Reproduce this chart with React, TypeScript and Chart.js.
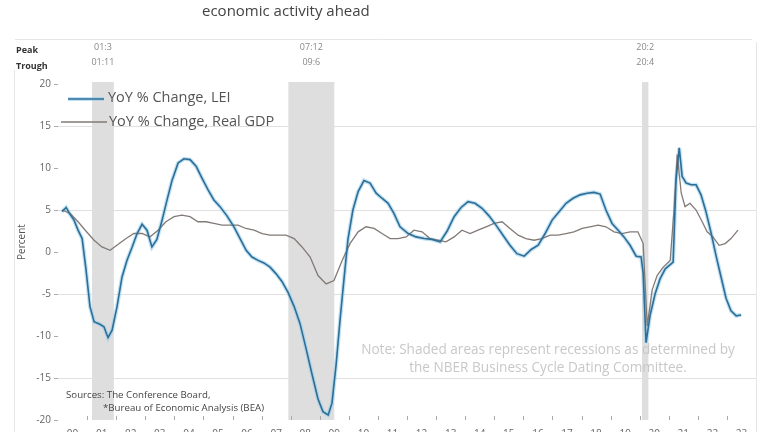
import React, { useEffect, useRef } from 'react';
import { Chart, registerables } from 'chart.js';
Chart.register(...registerables);

// ---- Data (years as decimal, values in YoY %) ----
const leiDates = [
  2000.14, 2000.28, 2000.41, 2000.55, 2000.69, 2000.83, 2000.96, 2001.10, 2001.24, 2001.44,
  2001.58, 2001.72, 2001.86, 2002.03, 2002.20, 2002.37, 2002.54, 2002.72, 2002.89, 2003.06,
  2003.23, 2003.40, 2003.58, 2003.75, 2003.92, 2004.13, 2004.33, 2004.54, 2004.75, 2004.95,
  2005.16, 2005.36, 2005.57, 2005.81, 2006.05, 2006.26, 2006.47, 2006.67, 2006.88, 2007.08,
  2007.29, 2007.50, 2007.70, 2007.91, 2008.12, 2008.32, 2008.53, 2008.73, 2008.94, 2009.11,
  2009.29, 2009.42, 2009.56, 2009.70, 2009.84, 2009.97, 2010.14, 2010.32, 2010.52, 2010.73,
  2010.94, 2011.14, 2011.35, 2011.55, 2011.76, 2012.04, 2012.31, 2012.59, 2012.86, 2013.14,
  2013.38, 2013.62, 2013.86, 2014.10, 2014.34, 2014.58, 2014.82, 2015.06, 2015.30, 2015.54,
  2015.78, 2016.03, 2016.27, 2016.51, 2016.75, 2016.99, 2017.23, 2017.47, 2017.71, 2017.95,
  2018.19, 2018.43, 2018.64, 2018.84, 2019.05, 2019.26, 2019.46, 2019.67, 2019.88, 2020.05,
  2020.12, 2020.22, 2020.36, 2020.53, 2020.70, 2020.88, 2021.05, 2021.15, 2021.25, 2021.36,
  2021.46, 2021.60, 2021.77, 2021.94, 2022.11, 2022.28, 2022.46, 2022.63, 2022.80, 2022.97,
  2023.14, 2023.32, 2023.49,
];
const leiValues = [
  4.8, 5.3, 4.5, 3.8, 2.6, 1.6, -2.0, -6.5, -8.3, -8.6,
  -8.9, -10.2, -9.3, -6.5, -3.0, -1.0, 0.5, 2.2, 3.3, 2.6,
  0.6, 1.5, 3.8, 6.2, 8.5, 10.6, 11.1, 11.0, 10.2, 8.8,
  7.4, 6.2, 5.4, 4.3, 3.0, 1.6, 0.2, -0.6, -1.0, -1.3,
  -1.8, -2.6, -3.5, -4.8, -6.5, -8.5, -11.5, -14.5, -17.5, -19.0,
  -19.4, -18.0, -13.5, -8.0, -3.0, 1.5, 5.0, 7.2, 8.5, 8.2,
  7.0, 6.4, 5.8, 4.6, 3.0, 2.2, 1.8, 1.6, 1.5, 1.2,
  2.5, 4.2, 5.3, 6.0, 5.8, 5.2, 4.3, 3.2, 2.0, 0.8,
  -0.2, -0.5, 0.3, 0.8, 2.2, 3.8, 4.8, 5.8, 6.4, 6.8,
  7.0, 7.1, 6.9, 5.0, 3.4, 2.6, 1.8, 0.8, -0.5, -0.6,
  -2.5, -10.8, -7.5, -5.0, -3.2, -2.0, -1.5, -1.2, 8.5, 12.4,
  9.0, 8.2, 8.0, 8.0, 6.8, 4.8, 2.2, -0.5, -3.0, -5.5,
  -7.0, -7.6, -7.5,
];
const gdpDates = [
  2000.14, 2000.41, 2000.69, 2000.96, 2001.24, 2001.51, 2001.79, 2002.06, 2002.34, 2002.61,
  2002.89, 2003.16, 2003.44, 2003.71, 2003.99, 2004.26, 2004.54, 2004.81, 2005.09, 2005.36,
  2005.64, 2005.91, 2006.19, 2006.46, 2006.74, 2007.02, 2007.29, 2007.57, 2007.84, 2008.12,
  2008.39, 2008.67, 2008.94, 2009.22, 2009.49, 2009.77, 2010.04, 2010.32, 2010.59, 2010.87,
  2011.14, 2011.42, 2011.69, 2011.97, 2012.24, 2012.52, 2012.79, 2013.07, 2013.34, 2013.62,
  2013.89, 2014.17, 2014.44, 2014.72, 2014.99, 2015.27, 2015.54, 2015.82, 2016.09, 2016.37,
  2016.64, 2016.92, 2017.19, 2017.47, 2017.74, 2018.02, 2018.29, 2018.57, 2018.84, 2019.12,
  2019.39, 2019.67, 2019.94, 2020.12, 2020.26, 2020.43, 2020.60, 2020.81, 2021.05, 2021.18,
  2021.29, 2021.43, 2021.56, 2021.73, 2021.94, 2022.15, 2022.32, 2022.52, 2022.73, 2022.94,
  2023.14, 2023.38,
];
const gdpValues = [
  5.0, 4.6, 3.6, 2.5, 1.4, 0.6, 0.2, 0.9, 1.6, 2.2,
  2.2, 1.8, 2.6, 3.6, 4.2, 4.4, 4.2, 3.6, 3.6, 3.4,
  3.2, 3.2, 3.2, 2.8, 2.6, 2.2, 2.0, 2.0, 2.0, 1.6,
  0.6, -0.6, -2.8, -3.8, -3.4, -1.0, 1.0, 2.4, 3.0, 2.8,
  2.2, 1.6, 1.6, 1.8, 2.6, 2.4, 1.6, 1.4, 1.2, 1.8,
  2.6, 2.2, 2.6, 3.0, 3.4, 3.6, 2.8, 2.0, 1.6, 1.4,
  1.6, 2.0, 2.0, 2.2, 2.4, 2.8, 3.0, 3.2, 3.0, 2.4,
  2.2, 2.4, 2.4, 1.0, -8.8, -4.5, -2.8, -1.8, -1.0, 5.0,
  11.6, 7.0, 5.4, 5.8, 5.0, 3.6, 2.4, 1.8, 0.8, 1.0,
  1.6, 2.6,
];
const recessionStart = [2001.17, 2007.92, 2020.08];
const recessionEnd = [2001.92, 2009.5, 2020.3];
const peakLabels = ['01:3', '07:12', '20:2'];
const troughLabels = ['01:11', '09:6', '20:4'];
const yearTickLabels = [
  '00', '01', '02', '03', '04', '05', '06', '07', '08', '09', '10', '11',
  '12', '13', '14', '15', '16', '17', '18', '19', '20', '21', '22', '23',
];
const gridValues = [15, 5, -5, -15];
const legendLabels = ['YoY % Change, LEI', 'YoY % Change, Real GDP'];

const FONT = '"Open Sans", "DejaVu Sans", sans-serif';

const decorPlugin = {
  id: 'decor',
  beforeDraw(chart: any) {
    const { ctx, width, height } = chart;
    ctx.save();
    ctx.fillStyle = '#ffffff';
    ctx.fillRect(0, 0, width, height);
    ctx.strokeStyle = '#e6e6e6';
    ctx.lineWidth = 1;
    ctx.beginPath();
    ctx.moveTo(15, 39.5);
    ctx.lineTo(752, 39.5);
    ctx.moveTo(14.5, 70);
    ctx.lineTo(14.5, height);
    ctx.moveTo(756.5, 42);
    ctx.lineTo(756.5, height);
    ctx.stroke();
    ctx.restore();
  },
  beforeDatasetsDraw(chart: any) {
    const { ctx, chartArea, scales } = chart;
    const x = scales.x;
    ctx.save();
    ctx.fillStyle = '#dedede';
    recessionStart.forEach((s, i) => {
      const x0 = x.getPixelForValue(s);
      const x1 = x.getPixelForValue(recessionEnd[i]);
      ctx.fillRect(x0, chartArea.top - 2, x1 - x0, chartArea.bottom - chartArea.top + 2);
    });
    // small year tick marks along the bottom
    ctx.strokeStyle = '#aaaaaa';
    ctx.beginPath();
    for (let i = 1; i < yearTickLabels.length; i++) {
      const px = Math.round(x.getPixelForValue(2000 + i)) + 0.5;
      ctx.moveTo(px, chartArea.bottom - 4);
      ctx.lineTo(px, chartArea.bottom);
    }
    ctx.stroke();
    ctx.restore();
  },
  afterDatasetsDraw(chart: any) {
    const { ctx, scales } = chart;
    const x = scales.x;
    ctx.save();
    // Title fragment
    ctx.fillStyle = '#444';
    ctx.font = `15px ${FONT}`;
    ctx.textBaseline = 'middle';
    ctx.textAlign = 'left';
    ctx.fillText('economic activity ahead', 202, 12);

    // Peak / Trough
    ctx.font = `bold 9px ${FONT}`;
    ctx.fillStyle = '#333';
    ctx.fillText('Peak', 16, 50);
    ctx.fillText('Trough', 16, 66);
    ctx.font = `9px ${FONT}`;
    ctx.fillStyle = '#888';
    ctx.textAlign = 'center';
    recessionStart.forEach((s, i) => {
      const cx = (x.getPixelForValue(s) + x.getPixelForValue(recessionEnd[i])) / 2;
      ctx.fillText(peakLabels[i], cx, 47);
      ctx.fillText(troughLabels[i], cx, 62);
    });

    // Percent
    ctx.save();
    ctx.translate(22, 242);
    ctx.rotate(-Math.PI / 2);
    ctx.font = `10px ${FONT}`;
    ctx.fillStyle = '#555';
    ctx.textAlign = 'center';
    ctx.fillText('Percent', 0, 0);
    ctx.restore();

    // Legend
    ctx.textAlign = 'left';
    ctx.lineWidth = 4;
    ctx.strokeStyle = 'rgba(150,205,235,0.6)';
    ctx.beginPath();
    ctx.moveTo(68, 99);
    ctx.lineTo(104, 99);
    ctx.stroke();
    ctx.lineWidth = 1.6;
    ctx.strokeStyle = '#2d6d96';
    ctx.beginPath();
    ctx.moveTo(68, 99);
    ctx.lineTo(104, 99);
    ctx.stroke();
    ctx.lineWidth = 1.3;
    ctx.strokeStyle = '#827a76';
    ctx.beginPath();
    ctx.moveTo(61, 122);
    ctx.lineTo(107, 122);
    ctx.stroke();
    ctx.font = `14.5px ${FONT}`;
    ctx.fillStyle = '#555';
    ctx.fillText(legendLabels[0], 108, 98);
    ctx.fillText(legendLabels[1], 109, 122);

    // Note
    ctx.font = `13.6px ${FONT}`;
    ctx.fillStyle = '#c8c8c8';
    ctx.textAlign = 'center';
    ctx.fillText('Note: Shaded areas represent recessions as determined by', 548, 350);
    ctx.fillText('the NBER Business Cycle Dating Committee.', 548, 368);

    // Sources
    ctx.font = `9.7px ${FONT}`;
    ctx.fillStyle = '#444';
    ctx.textAlign = 'left';
    ctx.fillText('Sources: The Conference Board,', 66, 395);
    ctx.fillText('*Bureau of Economic Analysis (BEA)', 103, 408);
    ctx.restore();
  },
};

export default function App() {
  const ref = useRef<HTMLCanvasElement | null>(null);
  useEffect(() => {
    document.body.style.margin = '0';
    const canvas = ref.current;
    if (!canvas) return;
    const chart = new Chart(canvas, {
      type: 'line',
      data: {
        datasets: [
          {
            label: legendLabels[0],
            data: leiDates.map((d, i) => ({ x: d, y: leiValues[i] })),
            borderColor: '#2d6d96',
            borderWidth: 1.6,
            pointRadius: 0,
            tension: 0,
            order: 0,
          },
          {
            label: legendLabels[1],
            data: gdpDates.map((d, i) => ({ x: d, y: gdpValues[i] })),
            borderColor: '#827a76',
            borderWidth: 1.3,
            pointRadius: 0,
            tension: 0,
            order: 1,
          },
          {
            label: 'glow',
            data: leiDates.map((d, i) => ({ x: d, y: leiValues[i] })),
            borderColor: 'rgba(150,205,235,0.6)',
            borderWidth: 4,
            pointRadius: 0,
            tension: 0,
            order: 2,
          },
        ],
      },
      options: {
        animation: false,
        responsive: false,
        devicePixelRatio: 1,
        layout: { padding: { left: 0, right: 12, top: 84, bottom: 0 } },
        plugins: { legend: { display: false }, tooltip: { enabled: false } },
        scales: {
          x: {
            type: 'linear',
            min: 2000,
            max: 2024,
            afterBuildTicks: (scale: any) => {
              scale.ticks = yearTickLabels.map((_, i) => ({ value: 2000.5 + i }));
            },
            afterFit: (scale: any) => {
              scale.height = 22;
            },
            ticks: {
              autoSkip: false,
              maxRotation: 0,
              padding: 0,
              color: '#666',
              font: { family: FONT, size: 10 },
              callback: (v: any) => yearTickLabels[Math.round(Number(v) - 2000.5)] ?? '',
            },
            grid: { display: false },
            border: { display: false },
          },
          y: {
            min: -20,
            max: 20,
            afterFit: (scale: any) => {
              scale.width = 58;
            },
            ticks: {
              stepSize: 5,
              padding: 3,
              color: '#666',
              font: { family: FONT, size: 10 },
            },
            grid: {
              color: (c: any) => (gridValues.includes(c.tick?.value) ? '#e0e0e0' : 'rgba(0,0,0,0)'),
              tickColor: '#aaaaaa',
              tickLength: 4,
            },
            border: { display: false },
          },
        },
      },
      plugins: [decorPlugin],
    });
    return () => chart.destroy();
  }, []);
  return (
    <div style={{ position: 'fixed', top: 0, left: 0, width: 768, height: 432, overflow: 'hidden', background: '#fff' }}>
      <canvas ref={ref} width={768} height={442} style={{ width: 768, height: 442, display: 'block' }} />
    </div>
  );
}
